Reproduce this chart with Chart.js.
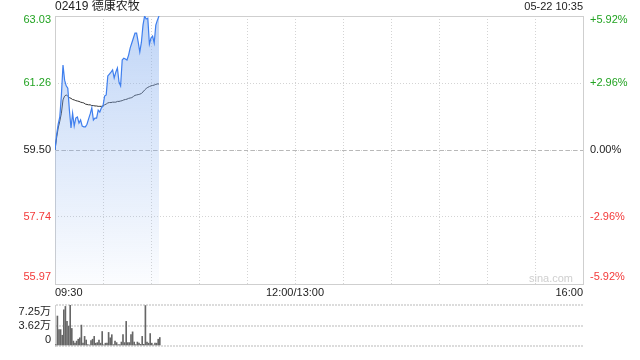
<!DOCTYPE html>
<html>
<head>
<meta charset="utf-8">
<script src="https://cdn.jsdelivr.net/npm/chart.js@4.4.0/dist/chart.umd.min.js"></script>
<style>
  body { margin: 0; background: #fff; }
  #wrap { position: relative; width: 640px; height: 360px; }
  #priceChart { position: absolute; left: 0; top: 0; }
  #volChart { position: absolute; left: 0; top: 300px; }
</style>
</head>
<body>
<div id="wrap">
  <canvas id="priceChart" width="640" height="300"></canvas>
  <canvas id="volChart" width="640" height="60"></canvas>
</div>
<script>
const stockTitle = "02419 德康农牧";
const timeStamp = "05-22 10:35";
const prevClose = 59.50;

// one value per minute from 09:30
const price = [
  59.50, 59.90, 60.18, 60.37, 60.95, 61.74, 61.34, 61.19, 61.13, 60.55,
  60.08, 60.47, 60.13, 60.34, 60.37, 60.21, 60.29, 60.13, 60.11, 60.11,
  60.18, 60.32, 60.45, 60.61, 60.29, 60.34, 60.34, 60.55, 60.50, 60.61,
  60.66, 60.92, 60.95, 61.45, 61.50, 61.55, 61.61, 61.40, 61.55, 61.66,
  61.29, 61.19, 61.87, 61.92, 61.90, 61.87, 62.00, 62.19, 62.32, 62.45,
  62.58, 62.58, 62.34, 62.08, 62.34, 62.79, 63.03, 62.95, 62.97, 62.29,
  62.45, 62.50, 62.32, 62.79, 62.92, 63.03
];
const avgPrice = [
  59.50, 59.82, 60.08, 60.26, 60.47, 60.82, 60.92, 60.95, 60.92, 60.88,
  60.86, 60.83, 60.82, 60.80, 60.79, 60.78, 60.76, 60.75, 60.74, 60.71,
  60.70, 60.69, 60.69, 60.67, 60.67, 60.66, 60.66, 60.65, 60.65, 60.65,
  60.66, 60.69, 60.71, 60.74, 60.75, 60.75, 60.76, 60.76, 60.76, 60.78,
  60.78, 60.79, 60.80, 60.82, 60.83, 60.84, 60.86, 60.87, 60.88, 60.91,
  60.94, 60.95, 60.96, 60.97, 60.99, 61.03, 61.08, 61.12, 61.15, 61.17,
  61.19, 61.20, 61.21, 61.23, 61.24, 61.24
];
// volume in 万
const volume = [
  0.24, 5.30, 2.90, 2.90, 1.90, 6.40, 7.00, 4.35, 3.50, 7.25,
  3.10, 0.87, 0.50, 0.87, 1.20, 1.45, 3.70, 0.50, 1.70, 1.06,
  0.24, 0.10, 0.97, 1.20, 1.70, 0.50, 0.60, 1.06, 0.50, 2.56,
  0.20, 0.50, 0.50, 2.40, 1.45, 2.00, 0.24, 0.87, 0.60, 0.24,
  0.24, 0.70, 2.00, 0.60, 4.35, 0.60, 0.60, 2.00, 2.50, 0.70,
  0.24, 0.70, 0.50, 0.30, 1.70, 0.30, 7.15, 0.70, 0.50, 2.20,
  0.50, 0.10, 0.50, 0.50, 1.20, 1.50
];

const priceTicks = [63.03, 61.26, 59.50, 57.74, 55.97];
const priceLabels = ["63.03", "61.26", "59.50", "57.74", "55.97"];
const pctLabels = ["+5.92%", "+2.96%", "0.00%", "-2.96%", "-5.92%"];
const volTicks = [7.25, 3.62, 0];
const volLabels = ["7.25万", "3.62万", "0"];
const timeTicks = [0, 30, 60, 90, 120, 150, 180, 210, 240, 270, 300, 330];
const timeLabels = [[0, "09:30"], [150, "12:00/13:00"], [330, "16:00"]];
const totalMinutes = 330;

const green = "#22a322";
const red = "#f33a3a";
const font = '"Liberation Sans", Arial, "Noto Sans CJK SC", sans-serif';

function tickColor(v) {
  if (v > prevClose) return green;
  if (v < prevClose) return red;
  return "#222";
}

function clampLabel(py, area, up, down) {
  return Math.min(Math.max(py, area.top + up), area.bottom - down);
}

const pricePlugin = {
  id: "priceExtras",
  beforeDatasetsDraw(chart) {
    const { ctx, chartArea: a, scales: { x, y } } = chart;
    ctx.save();
    // zero line
    const y0 = Math.round(y.getPixelForValue(prevClose)) + 0.5;
    ctx.strokeStyle = "#b8b8b8";
    ctx.lineWidth = 1;
    ctx.setLineDash([4, 3]);
    ctx.beginPath();
    ctx.moveTo(a.left, y0);
    ctx.lineTo(a.right, y0);
    ctx.stroke();
    // frame
    ctx.setLineDash([]);
    ctx.strokeStyle = "#cfcfcf";
    const l = Math.round(x.getPixelForValue(0)) + 0.5;
    const r = Math.round(x.getPixelForValue(totalMinutes)) + 0.5;
    const t = Math.round(y.getPixelForValue(priceTicks[0])) + 0.5;
    const b = Math.round(y.getPixelForValue(priceTicks[4])) + 0.5;
    ctx.strokeRect(l, t, r - l, b - t);
    ctx.restore();
  },
  afterDraw(chart) {
    const { ctx, chartArea: a, scales: { x, y } } = chart;
    ctx.save();
    ctx.textBaseline = "middle";
    ctx.font = "11px " + font;
    priceTicks.forEach((v, i) => {
      const py = clampLabel(y.getPixelForValue(v), a, 4, 7);
      ctx.fillStyle = tickColor(v);
      ctx.textAlign = "right";
      ctx.fillText(priceLabels[i], a.left - 4, py);
      ctx.textAlign = "left";
      ctx.fillText(pctLabels[i], a.right + 7, py);
    });
    ctx.fillStyle = "#222";
    timeLabels.forEach(([m, txt], i) => {
      ctx.textAlign = i === 0 ? "left" : (i === timeLabels.length - 1 ? "right" : "center");
      ctx.fillText(txt, x.getPixelForValue(m), a.bottom + 9);
    });
    ctx.textAlign = "right";
    ctx.fillText(timeStamp, a.right, 7);
    ctx.font = "12px " + font;
    ctx.textAlign = "left";
    ctx.fillText(stockTitle, a.left, 7);
    ctx.font = "11px " + font;
    ctx.fillStyle = "#cfcfcf";
    ctx.textAlign = "right";
    ctx.fillText("sina.com", a.right - 10, a.bottom - 5);
    ctx.restore();
  }
};

const volPlugin = {
  id: "volExtras",
  afterDraw(chart) {
    const { ctx, chartArea: a, scales: { y } } = chart;
    ctx.save();
    ctx.textBaseline = "middle";
    ctx.textAlign = "right";
    ctx.font = "11px " + font;
    ctx.fillStyle = "#222";
    volTicks.forEach((v, i) => {
      const py = clampLabel(y.getPixelForValue(v), a, 7, 6);
      ctx.fillText(volLabels[i], a.left - 4, py);
    });
    ctx.restore();
  }
};

const pricePoints = price.map((p, i) => ({ x: i, y: p }));
const avgPoints = avgPrice.map((p, i) => ({ x: i, y: p }));
const volPoints = volume.map((v, i) => ({ x: i + 0.5, y: v }));

new Chart("priceChart", {
  type: "line",
  data: {
    datasets: [{
      data: pricePoints,
      borderColor: "#3f7fee",
      borderWidth: 1.2,
      pointRadius: 0,
      tension: 0,
      fill: "start",
      backgroundColor: (c) => {
        const a = c.chart.chartArea;
        if (!a) return "rgba(0,0,0,0)";
        const g = c.chart.ctx.createLinearGradient(0, a.top, 0, a.bottom);
        g.addColorStop(0, "rgba(130,172,238,0.5)");
        g.addColorStop(1, "rgba(130,172,238,0.03)");
        return g;
      }
    }, {
      data: avgPoints,
      borderColor: "#333",
      borderWidth: 1,
      pointRadius: 0,
      tension: 0,
      fill: false
    }]
  },
  options: {
    responsive: false,
    animation: false,
    layout: { padding: { left: 55, right: 57, top: 16, bottom: 16 } },
    plugins: { legend: { display: false }, tooltip: { enabled: false } },
    scales: {
      x: {
        type: "linear",
        min: 0,
        max: totalMinutes,
        afterBuildTicks: (s) => { s.ticks = timeTicks.map(v => ({ value: v })); },
        ticks: { display: false },
        grid: { color: "#d4d4d4", drawTicks: false },
        border: { display: false, dash: [1, 2] }
      },
      y: {
        min: priceTicks[4],
        max: priceTicks[0],
        afterBuildTicks: (s) => { s.ticks = priceTicks.map(v => ({ value: v })); },
        ticks: { display: false },
        grid: { color: "#d4d4d4", drawTicks: false },
        border: { display: false, dash: [1, 2] }
      }
    }
  },
  plugins: [pricePlugin]
});

new Chart("volChart", {
  type: "bar",
  data: {
    datasets: [{
      data: volPoints,
      backgroundColor: "#666",
      barThickness: 1,
      minBarLength: 1
    }]
  },
  options: {
    responsive: false,
    animation: false,
    layout: { padding: { left: 55, right: 57, top: 5, bottom: 6 } },
    plugins: { legend: { display: false }, tooltip: { enabled: false } },
    scales: {
      x: {
        type: "linear",
        offset: false,
        min: 0,
        max: totalMinutes,
        ticks: { display: false },
        grid: { display: false },
        border: { display: false }
      },
      y: {
        min: 0,
        max: volTicks[0],
        afterBuildTicks: (s) => { s.ticks = volTicks.map(v => ({ value: v })); },
        ticks: { display: false },
        grid: { color: "#dcdcdc", lineWidth: 2, drawTicks: false },
        border: { display: true, color: "#cfcfcf", dash: [2, 1] }
      }
    }
  },
  plugins: [volPlugin]
});
</script>
</body>
</html>
